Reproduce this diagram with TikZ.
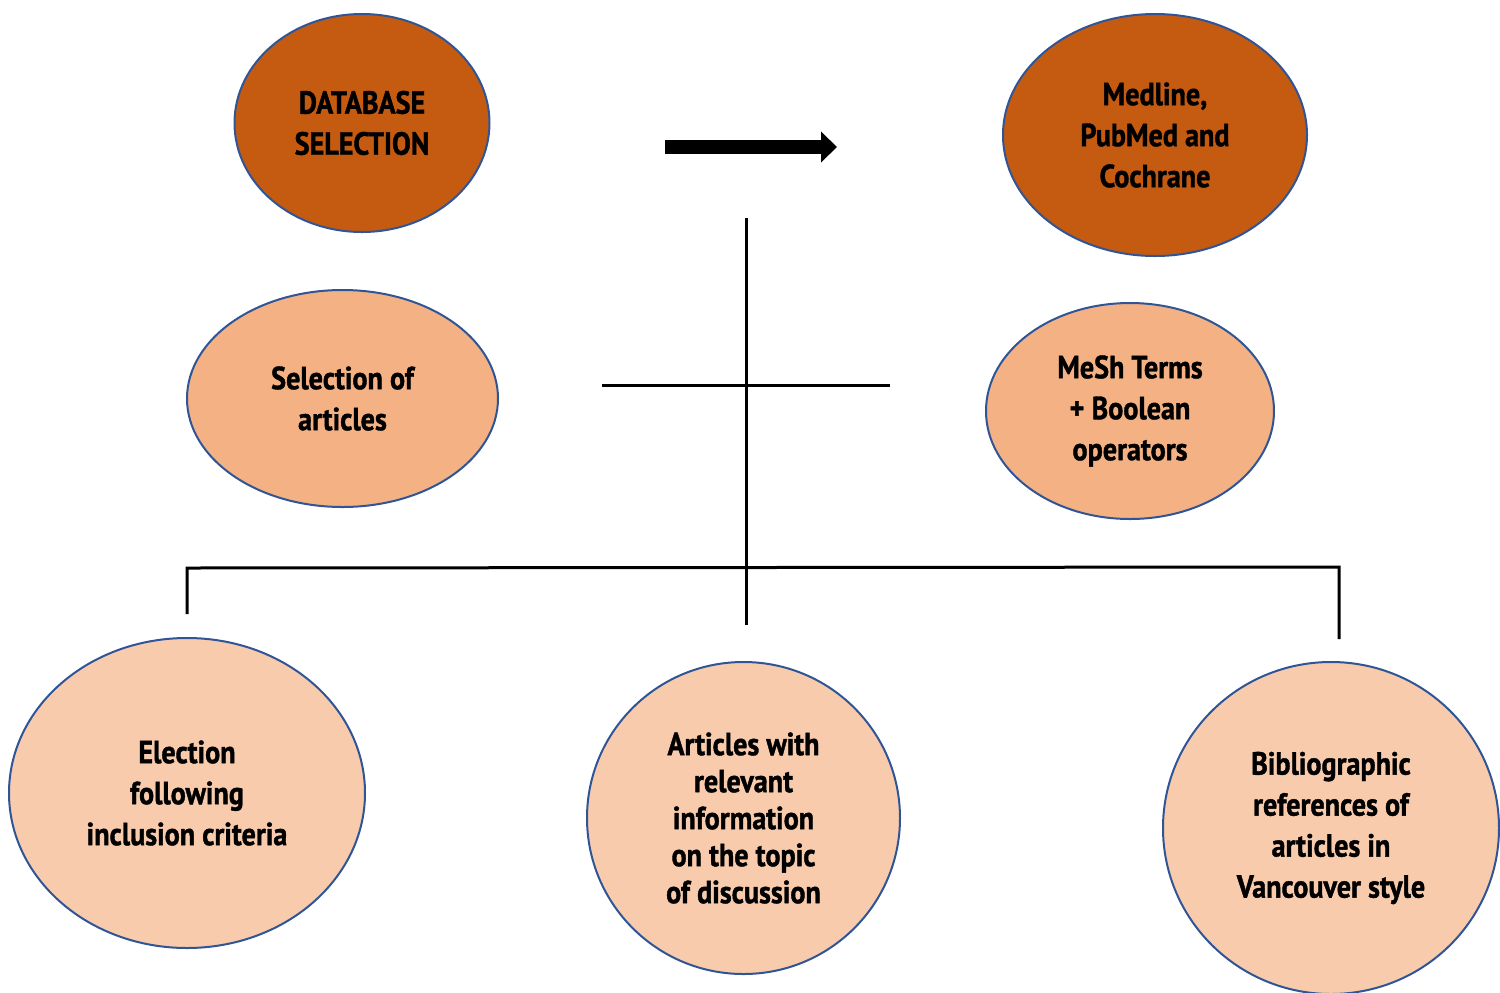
\documentclass[tikz,border=0pt]{standalone}
\usepackage{fontspec}
\setmainfont{PT Sans}[FakeStretch=0.88,BoldFeatures={FakeBold=1.2}]
\usepackage{tikz}
\usetikzlibrary{shapes.geometric}
\usetikzlibrary{arrows.meta}
\tikzset{>=latex}
\definecolor{rim}{RGB}{47,85,151}
\definecolor{darkorange}{RGB}{197,90,17}
\definecolor{midorange}{RGB}{244,177,131}
\definecolor{paleorange}{RGB}{248,203,173}
\tikzset{bubble/.style={ellipse,draw=rim,line width=1pt,inner sep=0pt,align=center,
  font=\bfseries\fontsize{16}{20.5}\selectfont}}
\tikzset{link/.style={line width=1.5pt}}

\begin{document}
\begin{tikzpicture}[x=0.5pt,y=-0.5pt]
    \useasboundingbox (0,0) rectangle (1500,992);
    % top row
    \node[bubble,fill=darkorange,minimum width=127.5pt,minimum height=109pt] (db) at (362,123) {DATABASE\\SELECTION};
    \node[bubble,fill=darkorange,minimum width=152pt,minimum height=121pt] (med) at (1155,135) {Medline,\\PubMed and\\Cochrane};
    % middle row
    \node[bubble,fill=midorange,minimum width=155.5pt,minimum height=108.5pt] (sel) at (342.5,398.5) {Selection of\\articles};
    \node[bubble,fill=midorange,minimum width=144pt,minimum height=108pt] (mesh) at (1130,411) {MeSh Terms\\+ Boolean\\operators};
    % bottom row
    \node[bubble,fill=paleorange,minimum width=178pt,minimum height=155pt] (elec) at (187,793) {Election\\following\\inclusion criteria};
    \node[bubble,fill=paleorange,minimum width=156.5pt,minimum height=156pt,
      font=\bfseries\fontsize{16}{18.5}\selectfont] (art) at (743.5,818) {Articles with\\relevant\\information\\on the topic\\of discussion};
    \node[bubble,fill=paleorange,minimum width=168pt,minimum height=166pt] (bib) at (1331,828) {Bibliographic\\references of\\articles in\\Vancouver style};

    \coordinate (arrowtail) at (665,147);
    \coordinate (arrowtip) at (837,147);
    \draw[-{Triangle[length=8pt,width=15pt]},line width=7pt] (arrowtail) -- (arrowtip);

    \coordinate (stemtop) at (746,218);
    \coordinate (stembot) at (746,625);
    \coordinate (crossL) at (602,385);
    \coordinate (crossR) at (890,385);
    \coordinate (barL) at (187,568);
    \coordinate (barR) at (1339,567);
    \coordinate (dropL) at (187,614);
    \coordinate (dropR) at (1339,639);
    \draw[link] (stemtop) -- (stembot);
    \draw[link] (crossL) -- (crossR);
    \draw[link] (dropL) -- (barL) -- (barR) -- (dropR);
\end{tikzpicture}
\end{document}
